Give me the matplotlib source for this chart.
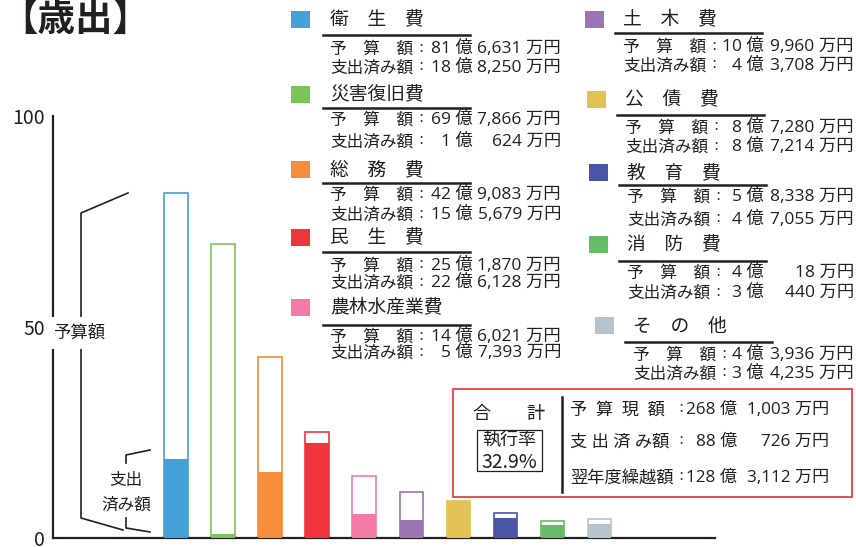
import numpy as np
import matplotlib
matplotlib.use('Agg')
import matplotlib.pyplot as plt
from matplotlib.patches import Rectangle
from matplotlib.lines import Line2D

plt.rcParams['font.family'] = ['Noto Sans CJK JP', 'DejaVu Sans']
NUM_FONT = ['Open Sans', 'Noto Sans CJK JP', 'DejaVu Sans']

# 歳出データ（億円 + 万円）
categories = ['衛生費', '災害復旧費', '総務費', '民生費', '農林水産業費',
              '土木費', '公債費', '教育費', '消防費', 'その他']
budget_oku = [81, 69, 42, 25, 14, 10, 8, 5, 4, 4]
budget_man = [6631, 7866, 9083, 1870, 6021, 9960, 7280, 8338, 18, 3936]
spent_oku = [18, 1, 15, 22, 5, 4, 8, 4, 3, 3]
spent_man = [8250, 624, 5679, 6128, 7393, 3708, 7214, 7055, 440, 4235]
colors = ['#45a0d8', '#7cc35a', '#f68d3a', '#ef353c', '#f279a8',
          '#9b74b4', '#e2c155', '#4a55a6', '#66bb66', '#b4c3cd']
carry_oku, carry_man = 128, 3112
yticks = [0, 50, 100]

budget = np.array(budget_oku) + np.array(budget_man) / 10000
spent = np.array(spent_oku) + np.array(spent_man) / 10000

W, H = 856, 547
TXT = '#231f20'


def fx(x):
    return x / W


def fy(y):
    return 1 - y / H


fig = plt.figure(figsize=(W / 100, H / 100), dpi=100)

# bars
ax = fig.add_axes([fx(53), fy(538), (715 - 53) / W, (538 - 116) / H])
xpos = np.arange(len(categories))
bw = 0.5
ax.bar(xpos, budget, bw, facecolor='white', edgecolor=colors, linewidth=1.2, zorder=2)
ax.bar(xpos, spent, bw, color=colors, linewidth=0, zorder=3)
ax.set_xlim(-2.62, 11.46)
ax.set_ylim(0, 100)
ax.set_xticks([])
ax.set_yticks(yticks)
ax.set_yticklabels([str(v) for v in yticks], fontsize=14, color=TXT)
ax.tick_params(axis='y', length=0, pad=6)
for s in ['top', 'right']:
    ax.spines[s].set_visible(False)
for s in ['left', 'bottom']:
    ax.spines[s].set_linewidth(1.6)
    ax.spines[s].set_color(TXT)


def line(xs, ys, lw=1.2, color=TXT):
    fig.add_artist(Line2D([fx(v) for v in xs], [fy(v) for v in ys],
                          transform=fig.transFigure, color=color, lw=lw))


def rect(x0, y0, x1, y1, **kw):
    fig.add_artist(Rectangle((fx(x0), fy(y1)), (x1 - x0) / W, (y1 - y0) / H,
                             transform=fig.transFigure, **kw))


def txt(x, y, s, size=12, ha='left', **kw):
    fig.text(fx(x), fy(y), s, ha=ha, va='center', fontsize=size, color=TXT, **kw)


def amount(x0, colon_x, oku_x, man_x, y, head, oku, man, hsize=12, nsize=12.5):
    txt(x0, y, head, size=hsize)
    txt(colon_x, y, '：', size=9.5, ha='center')
    txt(oku_x, y, f'{oku} 億', size=nsize, ha='right', family=NUM_FONT)
    txt(man_x, y, f'{man:,} 万円', size=nsize, ha='right', family=NUM_FONT)


# title
txt(0, 19, '【歳出】', size=27, fontweight='bold')

# brackets
line([128, 81, 81, 123], [193, 213, 518, 530])
line([150, 126, 126], [450, 455, 463])
line([126, 126, 150], [518, 528, 532])
txt(79, 333, '予算額', size=12.5, ha='center',
    bbox=dict(facecolor='white', edgecolor='none', pad=5))
txt(126, 480, '支出', size=12, ha='center')
txt(126, 505, '済み額', size=12, ha='center')

# legend entries
left_rows = dict(title=[20, 95, 170, 238, 308], rule=[35, 108, 183, 252, 325],
                 l1=[49, 120, 195, 266, 337], l2=[68, 142, 215, 283, 353])
right_rows = dict(title=[20, 100, 173, 245, 326], rule=[33, 115, 185, 261, 342],
                  l1=[47, 128, 197, 273, 355], l2=[66, 147, 220, 293, 374])
right_shift = [0, 2, 4, 4, 10]

for i, name in enumerate(categories):
    if i < 5:
        r, j, dx = left_rows, i, 0
        sq_x, tx, rule0, rule1, oku_x, man_x = 291, 330, 323, 470, 473, 561
    else:
        r, j = right_rows, i - 5
        dx = right_shift[j]
        sq_x, tx, rule0, rule1, oku_x, man_x = 585, 623, 615, 762, 764, 854
    label = '　'.join(name) if len(name) == 3 else name
    rect(sq_x + dx, r['title'][j] - 9, sq_x + dx + 19, r['title'][j] + 8,
         facecolor=colors[i], edgecolor='none')
    txt(tx + dx, r['title'][j], label, size=13.5)
    line([rule0 + dx, rule1 + dx], [r['rule'][j]] * 2, lw=1.8)
    amount(tx + dx, tx + dx + 91, oku_x, man_x, r['l1'][j],
           '予　算　額', budget_oku[i], budget_man[i])
    amount(tx + dx, tx + dx + 91, oku_x, man_x, r['l2'][j],
           '支出済み額', spent_oku[i], spent_man[i])

# total box
tot_b = int(round(budget.sum() * 10000))
tot_s = int(round(spent.sum() * 10000))
rate = spent.sum() / budget.sum() * 100
rect(453, 389, 852, 497, facecolor='none', edgecolor='#e8403f', lw=1.3)
rect(477, 430, 542, 471, facecolor='none', edgecolor=TXT, lw=0.9)
line([562, 562], [397, 492], lw=1.8)
txt(509, 414, '合　　計', size=13, ha='center')
txt(509, 440, '執行率', size=13, ha='center')
txt(509, 462, f'{rate:.1f}%', size=14, ha='center')
total_lines = [('予\u2002算\u2002現\u2002額', tot_b // 10000, tot_b % 10000, 410),
               ('支\u2005出\u2005済\u2005み額', tot_s // 10000, tot_s % 10000, 442),
               ('翌年度繰越額', carry_oku, carry_man, 478)]
for head, oku, man, yy in total_lines:
    amount(570, 681, 737, 829, yy, head, oku, man, hsize=12.4, nsize=12.3)

fig.savefig('out.png', dpi=100)
